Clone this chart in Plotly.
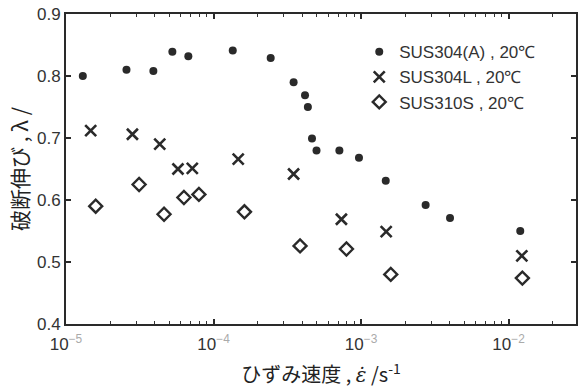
import plotly.graph_objects as go

# Strain rate (1/s) and fracture elongation ratio for each steel
a_rate = [1.30e-5, 2.57e-5, 3.91e-5, 5.26e-5, 6.75e-5, 1.35e-4, 2.44e-4, 3.49e-4,
          4.17e-4, 4.36e-4, 4.65e-4, 4.99e-4, 7.13e-4, 9.68e-4, 1.47e-3, 2.74e-3,
          4.01e-3, 1.20e-2]
a_val = [0.800, 0.810, 0.808, 0.839, 0.832, 0.841, 0.829, 0.790,
         0.769, 0.750, 0.699, 0.680, 0.680, 0.668, 0.631, 0.592,
         0.571, 0.550]

l_rate = [1.47e-5, 2.82e-5, 4.32e-5, 5.74e-5, 7.18e-5, 1.47e-4, 3.49e-4,
          7.36e-4, 1.48e-3, 1.23e-2]
l_val = [0.712, 0.706, 0.690, 0.650, 0.651, 0.666, 0.642,
         0.569, 0.549, 0.510]

s_rate = [1.59e-5, 3.13e-5, 4.62e-5, 6.30e-5, 7.96e-5, 1.62e-4, 3.86e-4,
          7.96e-4, 1.59e-3, 1.24e-2]
s_val = [0.590, 0.625, 0.577, 0.604, 0.609, 0.581, 0.526,
         0.521, 0.480, 0.474]

series_names = ["SUS304(A) , 20℃", "SUS304L , 20℃", "SUS310S , 20℃"]

decades = [1e-5, 1e-4, 1e-3, 1e-2]
x_ticktext = ['10<sup><span style="color:#aaa">−5</span></sup>',
              '10<sup><span style="color:#aaa">−4</span></sup>',
              '10<sup><span style="color:#aaa">−3</span></sup>',
              '10<sup><span style="color:#aaa">−2</span></sup>']
minor_mult = [2, 3, 4, 5, 6, 7, 8, 9]
y_tickvals = [0.4, 0.5, 0.6, 0.7, 0.8, 0.9]

ink = "#2a2a2a"

fig = go.Figure()
fig.add_trace(go.Scatter(
    x=a_rate, y=a_val, mode="markers", name=series_names[0],
    marker=dict(symbol="circle", size=8, color=ink)))
fig.add_trace(go.Scatter(
    x=l_rate, y=l_val, mode="markers", name=series_names[1],
    marker=dict(symbol="x-thin", size=11, color=ink,
                line=dict(width=2.6, color=ink))))
fig.add_trace(go.Scatter(
    x=s_rate, y=s_val, mode="markers", name=series_names[2],
    marker=dict(symbol="diamond-open", size=10, color=ink,
                line=dict(width=2.4, color=ink))))

fig.update_layout(
    width=581, height=392,
    margin=dict(l=66, r=3, t=14, b=68),
    paper_bgcolor="white", plot_bgcolor="white",
    font=dict(family="Arial, Liberation Sans, sans-serif", size=17, color=ink),
    showlegend=True,
    legend=dict(x=0.575, y=0.935, xanchor="left", yanchor="top",
                bgcolor="rgba(0,0,0,0)", borderwidth=0,
                font=dict(size=17, color="#333"), itemwidth=30),
)

# decade ticks labelled as powers of ten, unlabelled minor ticks at 2..9
fig.update_xaxes(
    type="log", range=[-5, -1.543],
    tickmode="array", tickvals=decades, ticktext=x_ticktext,
    ticks="inside", ticklen=5, tickwidth=1.5, tickcolor=ink,
    ticklabelstandoff=4,
    minor=dict(tickmode="array",
               tickvals=[m * d for d in decades for m in minor_mult],
               ticks="inside", ticklen=3, tickwidth=1.3, tickcolor="#333",
               showgrid=False),
    showline=True, linewidth=2, linecolor=ink, mirror="allticks",
    showgrid=False, zeroline=False,
    tickfont=dict(size=17, color="#333"),
    title=dict(text='ひずみ速度 , <span style="font-family:\'DejaVu Serif\'"><i>ε̇</i></span> /s<sup>-1</sup>',
               font=dict(family="Noto Sans CJK JP", size=20, color="#222"),
               standoff=15),
)
fig.update_yaxes(
    range=[0.4, 0.9], tickvals=y_tickvals, tickformat=".1f",
    ticks="inside", ticklen=5, tickwidth=1.5, tickcolor=ink,
    showline=True, linewidth=2, linecolor=ink, mirror="ticks",
    showgrid=False, zeroline=False,
    tickfont=dict(size=17, color="#333"),
    title=dict(text="破断伸び , λ /",
               font=dict(family="Noto Sans CJK JP", size=21, color="#222"),
               standoff=3),
)

fig.write_html("out.html")
